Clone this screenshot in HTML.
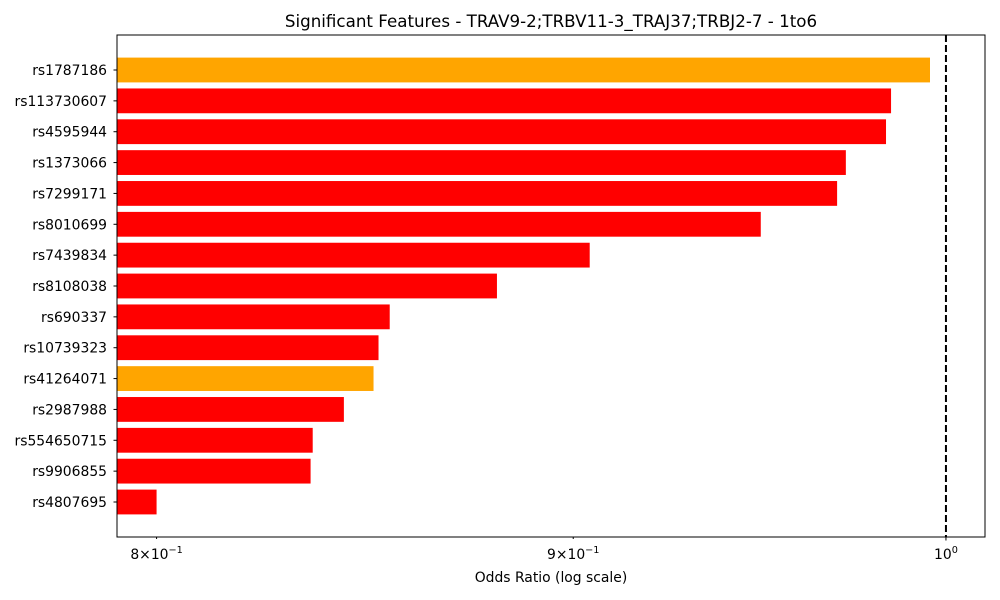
<!DOCTYPE html>
<html><head><meta charset="utf-8"><style>
body{margin:0;background:#fff;}
svg{display:block;font-family:"DejaVu Sans","Liberation Sans",sans-serif;}
</style></head><body>
<svg id="chart" width="1000" height="600" viewBox="0 0 1000 600">
<text x="551" y="27" text-anchor="middle" font-size="16.7">Significant Features - TRAV9-2;TRBV11-3_TRAJ37;TRBJ2-7 - 1to6</text>
<g id="bars"></g>
<g id="yticks"></g>
<g id="xticks"></g>
<rect x="117" y="35" width="868" height="502" fill="none" stroke="#000" stroke-width="1"/>
<text x="551" y="582" text-anchor="middle" font-size="13.9">Odds Ratio (log scale)</text>
</svg>
<script>
const features = ["rs1787186","rs113730607","rs4595944","rs1373066","rs7299171","rs8010699","rs7439834","rs8108038","rs690337","rs10739323","rs41264071","rs2987988","rs554650715","rs9906855","rs4807695"];
const oddsRatios = [0.9955,0.9846,0.9832,0.9721,0.9697,0.9490,0.9042,0.8808,0.8545,0.8518,0.8506,0.8435,0.8361,0.8356,0.8000];
const barColors = ["#ffa500","#ff0000","#ff0000","#ff0000","#ff0000","#ff0000","#ff0000","#ff0000","#ff0000","#ff0000","#ffa500","#ff0000","#ff0000","#ff0000","#ff0000"];
const xTickValues = [0.8,0.9,1.0];
const xTickBases = ["8","9",""];

const NS="http://www.w3.org/2000/svg";
const x0=117,x1=985,xmin=0.7911,xmax=1.0111;
function xs(v){return x0+(Math.log(v)-Math.log(xmin))/(Math.log(xmax)-Math.log(xmin))*(x1-x0);}
const n=features.length;
function ys(i){return 70+i*((502-70)/(n-1));}
function mk(t,a){const e=document.createElementNS(NS,t);for(const k in a)e.setAttribute(k,a[k]);return e;}
const gB=document.getElementById('bars'),gY=document.getElementById('yticks'),gX=document.getElementById('xticks');
features.forEach((f,i)=>{
  const cy=ys(i);
  const r=mk('rect',{x:x0,y:cy-12.4,width:xs(oddsRatios[i])-x0,height:24.8,fill:barColors[i]});
  
  
  gB.appendChild(r);
  const tk=mk('line',{x1:x0-3.5,x2:x0,y1:cy,y2:cy,stroke:'#000'});
  
  
  gY.appendChild(tk);
  const t=mk('text',{x:x0-10,y:cy+5,'text-anchor':'end','font-size':13.9});
  t.textContent=f;
  
  
  gY.appendChild(t);
});
const ref=mk('line',{x1:xs(1),x2:xs(1),y1:35,y2:537,stroke:'#000','stroke-width':2,'stroke-dasharray':'7,3'});


gB.appendChild(ref);
xTickValues.forEach((v,i)=>{
  const x=xs(v);
  const major=xTickBases[i]==="";
  const l=mk('line',{x1:x,x2:x,y1:537,y2:537+(major?3.5:2),stroke:'#000'});
  
  
  gX.appendChild(l);
  const t=mk('text',{x:x,y:559,'text-anchor':'middle','font-size':13.9});
  
  
  if(major){t.innerHTML='10<tspan dy="-6" font-size="9.7">0</tspan>';}
  else{t.innerHTML=xTickBases[i]+'\u00d710<tspan dy="-6" font-size="9.7">\u22121</tspan>';}
  gX.appendChild(t);
});
</script>
</body></html>
